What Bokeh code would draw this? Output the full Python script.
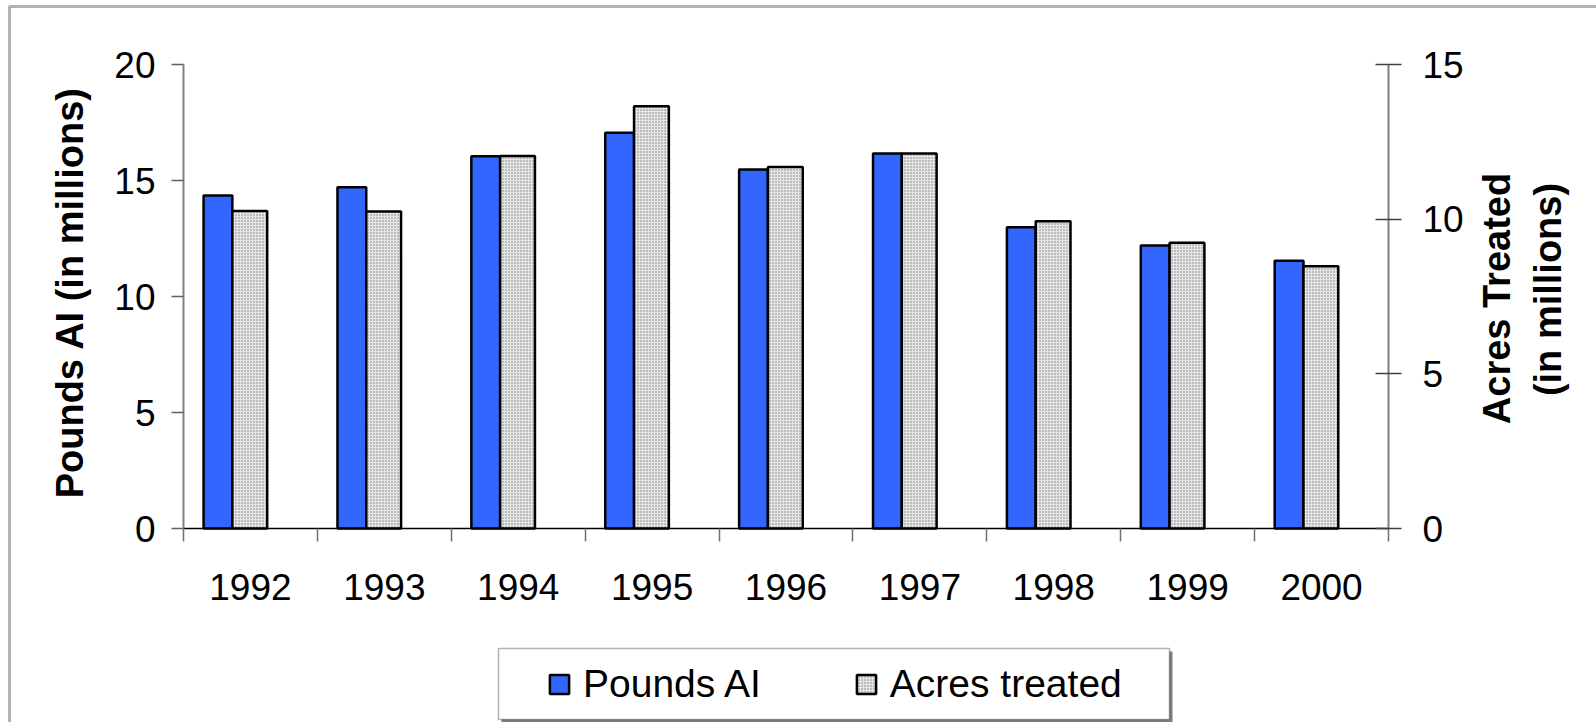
import numpy as np
from bokeh.plotting import figure
from bokeh.models import (Range1d, LinearAxis, FixedTicker, Legend, LegendItem, Label,
                          CustomJSTickFormatter, BoxAnnotation)
from bokeh.embed import file_html
from bokeh.resources import INLINE

# ---- data ----
years = ["1992", "1993", "1994", "1995", "1996", "1997", "1998", "1999", "2000"]
pounds_ai = [14.35, 14.71, 16.05, 17.06, 15.47, 16.16, 12.99, 12.20, 11.54]
acres_treated = [10.26, 10.25, 12.04, 13.65, 11.69, 12.12, 9.93, 9.24, 8.48]
left_ticks = [0, 5, 10, 15, 20]
right_ticks = [0, 5, 10, 15]
LEFT_MAX, RIGHT_MAX = 20, 15
N = len(years)

FONT = "Liberation Sans"
W, H = 1596, 722
AX_L, AX_R, AX_T, AX_0 = 183, 1388, 64, 528   # canvas px of the plotting box
sx = (AX_R - AX_L) / N
syl = (AX_0 - AX_T) / LEFT_MAX
syr = (AX_0 - AX_T) / RIGHT_MAX

# frame covers the whole canvas; axes are pinned inside it
p = figure(width=W, height=H,
           x_range=Range1d(-AX_L / sx, (W - AX_L) / sx),
           y_range=Range1d(-(H - AX_0) / syl, AX_0 / syl),
           output_backend="svg", toolbar_location=None,
           min_border=0, min_border_left=0, min_border_right=0,
           min_border_top=0, min_border_bottom=0)
p.extra_y_ranges = {"right": Range1d(-(H - AX_0) / syr, AX_0 / syr)}
p.grid.visible = False
p.outline_line_color = None
p.background_fill_color = "white"
p.border_fill_color = "white"

def px2x(px):
    return (px - AX_L) / sx
def py2y(py):
    return (AX_0 - py) / syl

idx = np.arange(N)
blue = p.quad(left=idx + 0.15, right=idx + 0.365, bottom=0, top=pounds_ai,
              fill_color="#3366FF", line_color="black", line_width=2.5)
gray = p.quad(left=idx + 0.365, right=idx + 0.625, bottom=0, top=acres_treated,
              y_range_name="right", fill_color="#e6e6e6", line_color="black", line_width=2.5,
              hatch_pattern="dot", hatch_color="#7a7a7a", hatch_scale=3, hatch_weight=1)

# x axis, pinned at value 0
xa = p.xaxis[0]
xa.fixed_location = 0
xa.bounds = (0, N)
xa.ticker = FixedTicker(ticks=list(idx + 0.5), minor_ticks=list(range(N + 1)))
xa.formatter = CustomJSTickFormatter(args=dict(labels=years),
                                     code="return labels[Math.round(tick - 0.5)];")
xa.axis_line_color = "black"
xa.axis_line_width = 1.5
xa.major_tick_line_color = None
xa.major_tick_out = 13
xa.major_tick_in = 0
xa.minor_tick_out = 13
xa.minor_tick_in = 0
xa.minor_tick_line_color = "#707070"
xa.minor_tick_line_width = 1.5
xa.major_label_standoff = 32
xa.major_label_text_font = FONT
xa.major_label_text_font_size = "37px"
xa.major_label_text_color = "black"

# left axis, pinned at the first category edge
ya = p.yaxis[0]
ya.fixed_location = 0
ya.bounds = (0, LEFT_MAX)
ya.ticker = FixedTicker(ticks=left_ticks)
ya.axis_line_color = "#808080"
ya.axis_line_width = 2
ya.major_tick_line_color = "#606060"
ya.major_tick_line_width = 1.5
ya.major_tick_in = 0
ya.major_tick_out = 12
ya.minor_tick_line_color = None
ya.major_label_standoff = 16
ya.major_label_text_font = FONT
ya.major_label_text_font_size = "37px"
ya.major_label_text_color = "black"

# right axis, pinned at the last category edge
ra = LinearAxis(y_range_name="right", ticker=FixedTicker(ticks=right_ticks),
                bounds=(0, RIGHT_MAX), fixed_location=N)
ra.axis_line_color = "#808080"
ra.axis_line_width = 2
ra.major_tick_line_color = "#404040"
ra.major_tick_line_width = 1.5
ra.major_tick_in = 13
ra.major_tick_out = 13
ra.minor_tick_line_color = None
ra.major_label_standoff = 21
ra.major_label_text_font = FONT
ra.major_label_text_font_size = "37px"
ra.major_label_text_color = "black"
p.add_layout(ra, "right")

# axis titles
title_style = dict(angle=np.pi / 2, text_align="center", text_baseline="alphabetic",
                   text_font=FONT, text_font_style="bold", text_font_size="38px",
                   text_color="black")
p.add_layout(Label(x=px2x(69), y=py2y(292), text="Pounds AI (in millions)", **title_style))
p.add_layout(Label(x=px2x(1496), y=py2y(298), text="Acres Treated", **title_style))
p.add_layout(Label(x=px2x(1547), y=py2y(289), text="(in millions)", **title_style))

# outer border of the chart area (only its left and top edges fall on the canvas)
p.add_layout(BoxAnnotation(left=px2x(9), right=px2x(1700), top=py2y(6), bottom=py2y(900),
                           fill_alpha=0, line_color="black", line_width=3))

# legend frame with shadow
p.add_layout(BoxAnnotation(left=px2x(501), right=px2x(1172), top=py2y(651), bottom=py2y(722),
                           fill_color="#7f7f7f", fill_alpha=1, line_color=None))
p.add_layout(BoxAnnotation(left=px2x(498), right=px2x(1169), top=py2y(648), bottom=py2y(719),
                           fill_color="white", fill_alpha=1, line_color="black", line_width=1.5))

legend = Legend(items=[LegendItem(label="Pounds AI", renderers=[blue]),
                       LegendItem(label="Acres treated", renderers=[gray])],
                orientation="horizontal", location=(547, 16),
                border_line_color=None, background_fill_alpha=0,
                padding=0, margin=0,
                glyph_width=24, glyph_height=24, label_standoff=12, spacing=93,
                label_text_font=FONT, label_text_font_size="39px", label_text_color="black")
p.add_layout(legend)

open("out.html", "w").write(file_html(p, INLINE))
